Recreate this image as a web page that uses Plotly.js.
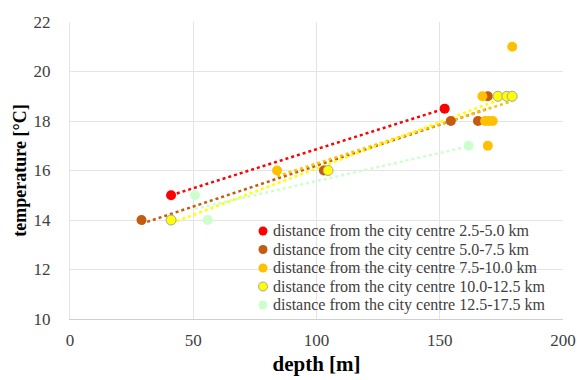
<!DOCTYPE html>
<html>
<head>
<meta charset="utf-8">
<script src="https://cdn.plot.ly/plotly-3.0.1.min.js"></script>
<style>html,body{margin:0;padding:0;background:#fff;}#chart{width:577px;height:380px;}</style>
</head>
<body>
<div id="chart"></div>
<script>
// Series names
const seriesNames = [
  "distance from the city centre 2.5-5.0 km",
  "distance from the city centre 5.0-7.5 km",
  "distance from the city centre 7.5-10.0 km",
  "distance from the city centre 10.0-12.5 km",
  "distance from the city centre 12.5-17.5 km"
];
// depth [m] and temperature [°C] per series
const depth1 = [41, 152];
const temp1  = [15, 18.5];
const depth2 = [29, 103, 154.5, 165.5, 169.5];
const temp2  = [14, 16, 18, 18, 19];
const depth3 = [84, 167.3, 168.4, 170, 171.5, 169.5, 179.4];
const temp3  = [16, 19, 18, 18, 18, 17, 21];
const depth4 = [41, 104.7, 173.6, 177.2, 179.4];
const temp4  = [14, 16, 19, 19, 19];
const depth5 = [50.7, 55.9, 161.7];
const temp5  = [15, 14, 17];

const xTicks = [0, 50, 100, 150, 200];
const yTicks = [10, 12, 14, 16, 18, 20, 22];

const colors = ['#FF0000', '#C55A11', '#FFC000', '#FFFF00', '#CCFFCC'];
const outline = [null, null, null, '#A5A5A5', null];

const X = [depth1, depth2, depth3, depth4, depth5];
const Y = [temp1, temp2, temp3, temp4, temp5];

function linfit(xs, ys) {
  const n = xs.length;
  const mx = xs.reduce((a, b) => a + b, 0) / n;
  const my = ys.reduce((a, b) => a + b, 0) / n;
  let sxy = 0, sxx = 0;
  for (let i = 0; i < n; i++) { sxy += (xs[i] - mx) * (ys[i] - my); sxx += (xs[i] - mx) ** 2; }
  const b = sxy / sxx, a = my - b * mx;
  const x0 = Math.min(...xs), x1 = Math.max(...xs);
  return { x: [x0, x1], y: [a + b * x0, a + b * x1] };
}

const traces = [];
for (let i = 0; i < 5; i++) {
  const f = linfit(X[i], Y[i]);
  traces.push({
    x: f.x, y: f.y, mode: 'lines', type: 'scatter', showlegend: false, hoverinfo: 'skip',
    line: { color: colors[i], width: 2.5, dash: 'dot' }
  });
}
for (let i = 0; i < 5; i++) {
  traces.push({
    x: X[i], y: Y[i], mode: 'markers', type: 'scatter', name: seriesNames[i], showlegend: false,
    marker: { color: colors[i], size: 10, line: { color: outline[i] || colors[i], width: outline[i] ? 1 : 0 } }
  });
}

// Custom legend (compact spacing like the original)
const plotL = 70, plotW = 493, plotB = 319, plotH = 297;
const legTop = 231, legStep = 18.5, legMarkX = 263, legTextX = 271;
const annotations = [], shapes = [];
for (let i = 0; i < 5; i++) {
  const ypx = legTop + i * legStep;
  const yp = (plotB - ypx) / plotH;
  annotations.push({
    xref: 'paper', yref: 'paper', x: (legTextX - plotL) / plotW, y: yp,
    xanchor: 'left', yanchor: 'middle', showarrow: false, text: seriesNames[i],
    font: { size: 16, color: '#404040', family: 'Liberation Serif, Times New Roman, serif' }
  });
  shapes.push({
    type: 'circle', xref: 'paper', yref: 'paper', xsizemode: 'pixel', ysizemode: 'pixel',
    xanchor: (legMarkX - plotL) / plotW, yanchor: yp, x0: -4.5, x1: 4.5, y0: -4.5, y1: 4.5,
    fillcolor: colors[i], line: { color: outline[i] || colors[i], width: outline[i] ? 1 : 0 }
  });
}

const layout = {
  width: 577, height: 380,
  margin: { l: 70, r: 14, t: 22, b: 61 },
  paper_bgcolor: '#fff', plot_bgcolor: '#fff',
  font: { family: 'Liberation Serif, Times New Roman, serif', color: '#404040', size: 17 },
  xaxis: {
    range: [0, 200], tickvals: xTicks, ticktext: xTicks.map(String),
    showgrid: true, gridcolor: '#E4E4E4', gridwidth: 1, zeroline: false,
    showline: true, linecolor: '#D0D0D0', linewidth: 1, ticks: '', ticklabelstandoff: 6,
    tickfont: { size: 17, color: '#404040' },
    title: { text: '<b>depth [m]</b>', font: { size: 21, color: '#000' }, standoff: 6 }
  },
  yaxis: {
    range: [10, 22], tickvals: yTicks, ticktext: yTicks.map(String),
    showgrid: true, gridcolor: '#E4E4E4', gridwidth: 1, zeroline: false,
    showline: true, linecolor: '#E4E4E4', linewidth: 1, ticks: '', ticklabelstandoff: 15,
    tickfont: { size: 17, color: '#404040' },
    title: { text: '<b>temperature [°C]</b>', font: { size: 18, color: '#000' }, standoff: 2 }
  },
  showlegend: false,
  annotations: annotations,
  shapes: shapes
};

Plotly.newPlot('chart', traces, layout, { displayModeBar: false, staticPlot: true });
</script>
</body>
</html>
